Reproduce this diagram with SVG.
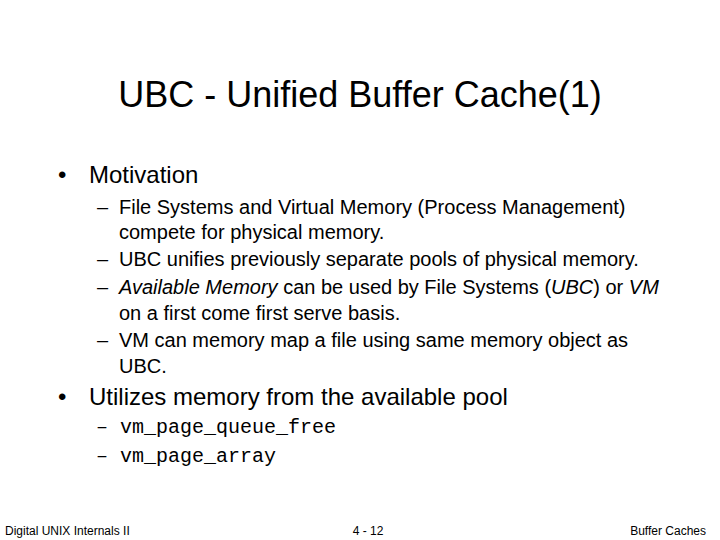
<svg xmlns="http://www.w3.org/2000/svg" width="720" height="540" viewBox="0 0 720 540">
<style>
text{font-family:"Liberation Sans",Arial,sans-serif;fill:#000}
.t{font-size:36px}
.b{font-size:24px}
.s{font-size:20px}
.m{font-family:"Liberation Mono","Courier New",monospace;font-size:20px}
.f{font-size:12px}
</style>
<rect width="720" height="540" fill="#fff"/>
<text class="t" x="360" y="107" text-anchor="middle">UBC - Unified Buffer Cache(1)</text>
<text class="b" x="58" y="183">•</text><text class="b" x="89" y="183">Motivation</text>
<text class="s" x="97" y="214">–</text><text class="s" x="119" y="214">File Systems and Virtual Memory (Process Management)</text>
<text class="s" x="119" y="239">compete for physical memory.</text>
<text class="s" x="97" y="266">–</text><text class="s" x="119" y="266">UBC unifies previously separate pools of physical memory.</text>
<text class="s" x="97" y="294">–</text><text class="s" x="119" y="294"><tspan font-style="italic">Available Memory</tspan> can be used by File Systems (<tspan font-style="italic">UBC</tspan>) or <tspan font-style="italic">VM</tspan></text>
<text class="s" x="119" y="320">on a first come first serve basis.</text>
<text class="s" x="97" y="347">–</text><text class="s" x="119" y="347">VM can memory map a file using same memory object as</text>
<text class="s" x="119" y="373">UBC.</text>
<text class="b" x="58" y="405">•</text><text class="b" x="89" y="405">Utilizes memory from the available pool</text>
<text class="m" x="96" y="433">– vm_page_queue_free</text>
<text class="m" x="96" y="462">– vm_page_array</text>
<text class="f" x="5" y="535">Digital UNIX Internals II</text>
<text class="f" x="368" y="535" text-anchor="middle">4 - 12</text>
<text class="f" x="706" y="535" text-anchor="end">Buffer Caches</text>
</svg>
